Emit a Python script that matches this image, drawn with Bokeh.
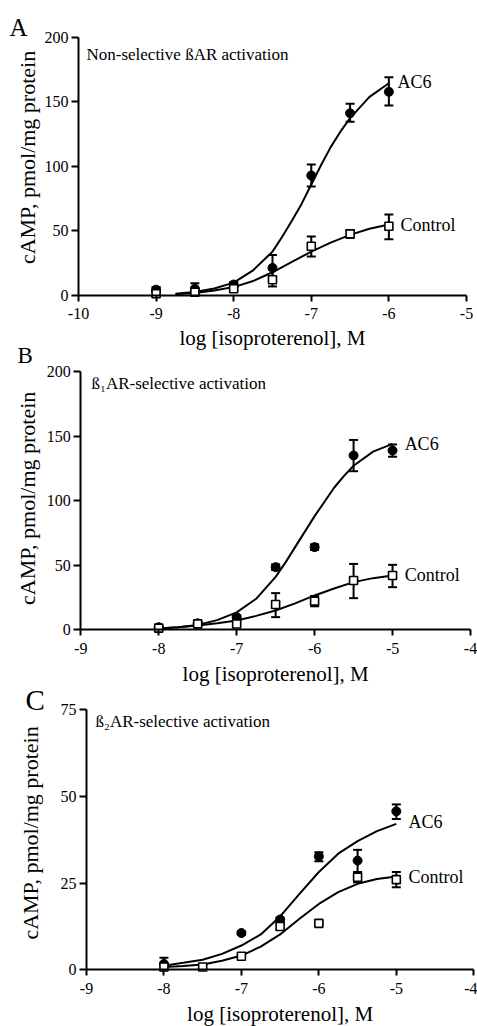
import math
from bokeh.plotting import figure
from bokeh.models import (ColumnDataSource, Whisker, TeeHead, Label, Range1d, FixedTicker,
                          LinearAxis)
from bokeh.embed import file_html
from bokeh.resources import INLINE

FONT = "Liberation Serif, serif"

# ---------------- Panel A: non-selective ----------------
a_x = [-9, -8.5, -8, -7.5, -7, -6.5, -6]
a_ac6 = [4.5, 5.2, 8.5, 21.4, 93, 141.3, 157.9]
a_ac6_up = [2, 4.3, 2, 10, 8.5, 7.3, 11.3]
a_ac6_lo = [2, 4.3, 2, 10, 8.5, 6.7, 10.6]
a_ctl = [1.3, 2.6, 5.2, 12.2, 38.2, 47.8, 53.7]
a_ctl_up = [2, 2, 1.5, 7.8, 7.5, 3, 9.1]
a_ctl_lo = [2, 2, 1.5, 5.2, 8, 3, 10.1]
a_fit_ac6_x = [-8.75, -8.5, -8.25, -8, -7.75, -7.5, -7.375, -7.25, -7.125, -7,
               -6.875, -6.75, -6.625, -6.5, -6.25, -6]
a_fit_ac6 = [1.4, 2.7, 5.4, 10, 19.5, 34, 45.5, 58, 71, 86, 101, 115, 127, 137.5, 154, 164.5]
a_fit_ctl_x = [-8.75, -8.5, -8.25, -8, -7.75, -7.5, -7.25, -7, -6.75, -6.5, -6.25, -6]
a_fit_ctl = [1.0, 2.0, 3.8, 6.5, 11.2, 18, 26, 34, 41, 47, 51.7, 55]
a_xticks = [-10, -9, -8, -7, -6, -5]
a_yticks = [0, 50, 100, 150, 200]

# ---------------- Panel B: beta1-selective ----------------
b_x = [-8, -7.5, -7, -6.5, -6, -5.5, -5]
b_ac6 = [2, 5, 9.8, 48.5, 64, 135, 138.8]
b_ac6_up = [1, 1, 1.5, 2.2, 2.2, 12, 4.7]
b_ac6_lo = [1, 1, 1.5, 2.2, 2.2, 12.2, 4.8]
b_ctl = [1.3, 4.6, 4.5, 19.6, 22.2, 38.2, 42]
b_ctl_up = [1, 1, 1, 8.8, 4, 12.8, 8.3]
b_ctl_lo = [1, 1, 1, 9.8, 4, 13.7, 9]
b_fit_ac6_x = [-8, -7.75, -7.5, -7.25, -7, -6.75, -6.5, -6.375, -6.25, -6.125, -6,
               -5.875, -5.75, -5.625, -5.5, -5.25, -5]
b_fit_ac6 = [1.0, 2, 3.8, 7.5, 13.5, 24, 41, 52, 64, 76, 88, 99, 110, 119, 127, 138, 144]
b_fit_ctl_x = [-8, -7.75, -7.5, -7.25, -7, -6.75, -6.5, -6.25, -6, -5.75, -5.5, -5.25, -5]
b_fit_ctl = [1, 2, 3.3, 5, 7.2, 10.8, 14.9, 20.5, 26.6, 32, 36.9, 40, 42]
b_xticks = [-9, -8, -7, -6, -5, -4]
b_yticks = [0, 50, 100, 150, 200]

# ---------------- Panel C: beta2-selective ----------------
c_ac6_x = [-8, -7, -6.5, -6, -5.5, -5]
c_ac6 = [1.7, 10.6, 14.5, 32.7, 31.5, 45.7]
c_ac6_up = [1.8, 0.5, 0.5, 1.2, 3.1, 2]
c_ac6_lo = [1.8, 0.5, 0.5, 1.4, 3.5, 2.2]
c_ctl_x = [-8, -7.5, -7, -6.5, -6, -5.5, -5]
c_ctl = [0.8, 0.8, 3.9, 12.5, 13.4, 26.7, 26]
c_ctl_up = [0.8, 0.5, 0.5, 1, 0.5, 1.5, 2.2]
c_ctl_lo = [0.8, 0.5, 0.5, 1, 0.5, 1.5, 2.2]
c_fit_x = [-8, -7.75, -7.5, -7.25, -7, -6.75, -6.5, -6.25, -6, -5.75, -5.5, -5.25, -5]
c_fit_ac6 = [1.2, 2.0, 2.9, 4.6, 7.0, 10.2, 15.4, 21.9, 28.2, 33.5, 37.1, 40, 42.1]
c_fit_ctl = [0.8, 1.1, 1.5, 2.6, 4.1, 6.7, 10.2, 14.7, 19, 22.4, 24.8, 26.2, 26.9]
c_xticks = [-9, -8, -7, -6, -5, -4]
c_yticks = [0, 25, 50, 75]

Y_LABEL = "cAMP, pmol/mg protein"
X_LABEL = "log [isoproterenol], M"

# One canvas; each panel has its own pair of ranges spanning the whole canvas.
p = figure(width=477, height=1026,
           x_range=Range1d(-11.005, -4.858), y_range=Range1d(-566.7, 228.68),
           x_axis_location=None, y_axis_location=None, min_border=0,
           output_backend="svg", toolbar_location=None)
p.extra_x_ranges = {"xb": Range1d(-10.030, -3.910), "xc": Range1d(-10.110, -3.952)}
p.extra_y_ranges = {"yb": Range1d(-307.16, 487.26), "yc": Range1d(-16.36, 279.6)}
p.outline_line_color = None
p.grid.visible = False
p.background_fill_color = "white"
p.border_fill_color = "white"


def add_axes(xn, yn, xticks, yticks, xbounds, ybounds):
    xa = LinearAxis(x_range_name=xn, y_range_name=yn, fixed_location=0, bounds=xbounds,
                    ticker=FixedTicker(ticks=xticks),
                    major_label_overrides={t: str(t) for t in xticks})
    ya = LinearAxis(x_range_name=xn, y_range_name=yn, fixed_location=xbounds[0],
                    bounds=ybounds, ticker=FixedTicker(ticks=yticks))
    for ax in (xa, ya):
        ax.axis_line_width = 2
        ax.axis_line_color = "black"
        ax.major_tick_line_width = 2
        ax.major_tick_line_color = "black"
        ax.major_tick_in = 0
        ax.minor_tick_line_color = None
        ax.major_label_text_font = FONT
        ax.major_label_text_font_size = "16px"
        ax.major_label_text_color = "black"
    xa.major_tick_out = 6
    xa.major_label_standoff = 7
    ya.major_tick_out = 7
    ya.major_label_standoff = 3
    p.add_layout(xa, "below")
    p.add_layout(ya, "left")


def add_series(xn, yn, fxa, fa, fxc, fc, xa_, ya_, ua, la, xc_, yc_, uc, lc):
    kw = dict(x_range_name=xn, y_range_name=yn)
    p.line(fxa, fa, line_color="black", line_width=2, **kw)
    p.line(fxc, fc, line_color="black", line_width=2, **kw)
    for xs, ys, up, lo in ((xa_, ya_, ua, la), (xc_, yc_, uc, lc)):
        src = ColumnDataSource(dict(x=xs, upper=[y + u for y, u in zip(ys, up)],
                                    lower=[y - l for y, l in zip(ys, lo)]))
        w = Whisker(source=src, base="x", upper="upper", lower="lower", dimension="height",
                    line_width=2, line_color="black",
                    upper_head=TeeHead(size=9, line_width=2, line_color="black"),
                    lower_head=TeeHead(size=9, line_width=2, line_color="black"), **kw)
        p.add_layout(w)
    p.scatter(xa_, ya_, marker="circle", size=9, fill_color="black", line_color="black", **kw)
    p.scatter(xc_, yc_, marker="square", size=8, fill_color="white", line_color="black",
              line_width=1.6, **kw)


def txt(xn, yn, x, y, text, size, align="left", angle=0):
    p.add_layout(Label(x=x, y=y, text=text, text_font=FONT, text_font_size=size,
                       text_color="black", text_baseline="middle", text_align=align,
                       angle=angle, x_range_name=xn, y_range_name=yn))


# Panel A
add_axes("default", "default", a_xticks, a_yticks, (-10, -5), (0, 200))
add_series("default", "default", a_fit_ac6_x, a_fit_ac6, a_fit_ctl_x, a_fit_ctl,
           a_x, a_ac6, a_ac6_up, a_ac6_lo, a_x, a_ctl, a_ctl_up, a_ctl_lo)
txt("default", "default", -10.889, 208.1, "A", "25px")
txt("default", "default", -9.897, 187.2, "Non-selective ßAR activation", "17px")
txt("default", "default", -5.889, 165.7, "AC6", "18px")
txt("default", "default", -5.85, 54.6, "Control", "18px")
txt("default", "default", -7.5, -33.3, X_LABEL, "21px", "center")
txt("default", "default", -10.657, 107.0, Y_LABEL, "22px", "center", math.pi / 2)

# Panel B
add_axes("xb", "yb", b_xticks, b_yticks, (-9, -4), (0, 200))
add_series("xb", "yb", b_fit_ac6_x, b_fit_ac6, b_fit_ctl_x, b_fit_ctl,
           b_x, b_ac6, b_ac6_up, b_ac6_lo, b_x, b_ctl, b_ctl_up, b_ctl_lo)
txt("xb", "yb", -9.813, 212.2, "B", "23px")
txt("xb", "yb", -8.863, 190.6, "ß₁AR-selective activation", "17px")
txt("xb", "yb", -4.845, 144.1, "AC6", "18px")
txt("xb", "yb", -4.845, 42.4, "Control", "18px")
txt("xb", "yb", -6.5, -34.3, X_LABEL, "21px", "center")
txt("xb", "yb", -9.678, 101.8, Y_LABEL, "22px", "center", math.pi / 2)

# Panel C
add_axes("xc", "yc", c_xticks, c_yticks, (-9, -4), (0, 75))
add_series("xc", "yc", c_fit_x, c_fit_ac6, c_fit_x, c_fit_ctl,
           c_ac6_x, c_ac6, c_ac6_up, c_ac6_lo, c_ctl_x, c_ctl, c_ctl_up, c_ctl_lo)
txt("xc", "yc", -9.787, 77.9, "C", "29px")
txt("xc", "yc", -8.884, 71.6, "ß₂AR-selective activation", "17px")
txt("xc", "yc", -4.844, 42.6, "AC6", "18px")
txt("xc", "yc", -4.844, 26.7, "Control", "18px")
txt("xc", "yc", -6.5, -12.8, X_LABEL, "21px", "center")
txt("xc", "yc", -9.729, 39.47, Y_LABEL, "22px", "center", math.pi / 2)

open("out.html", "w").write(file_html(p, INLINE))
